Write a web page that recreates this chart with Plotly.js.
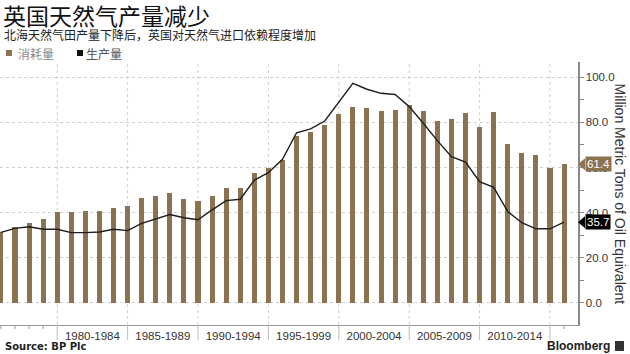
<!DOCTYPE html>
<html>
<head>
<meta charset="utf-8">
<script src="https://cdn.plot.ly/plotly-3.0.1.min.js"></script>
<style>html,body{margin:0;padding:0;background:#fff;}#chart{width:630px;height:354px;}</style>
</head>
<body>
<div id="chart"></div>
<script>
// ---- data (Million Metric Tons of Oil Equivalent, BP) ----
const years = [1975,1976,1977,1978,1979,1980,1981,1982,1983,1984,1985,1986,1987,1988,1989,
  1990,1991,1992,1993,1994,1995,1996,1997,1998,1999,2000,2001,2002,2003,2004,2005,2006,2007,
  2008,2009,2010,2011,2012,2013,2014,2015];
const consumption = [31.5,33.4,35.5,37.0,40.4,40.1,40.7,40.7,42.2,43.1,46.4,47.3,48.5,46.2,45.1,
  47.2,50.9,50.7,57.5,59.6,63.5,74.0,75.9,78.7,83.9,86.7,86.2,85.2,85.3,87.5,85.2,80.8,81.7,
  84.3,77.9,84.5,70.2,66.3,65.4,59.9,61.4];
const production = [31.2,33.0,33.7,32.6,32.6,31.1,31.1,31.4,32.6,32.0,35.2,37.3,39.1,37.7,36.8,
  41.2,45.3,45.9,54.4,57.7,63.6,75.4,77.1,80.6,88.8,97.3,94.7,92.9,92.4,87.0,79.6,71.9,64.8,
  62.4,53.7,51.2,40.4,35.5,32.8,32.8,35.7];
const periodLabels = ["1980-1984","1985-1989","1990-1994","1995-1999","2000-2004","2005-2009","2010-2014"];
const periodCenters = [1981.5,1986.5,1991.5,1996.5,2001.5,2006.5,2011.5];
const periodBounds = [1979,1984,1989,1994,1999,2004,2009,2014];
const minorTickYears = [1975,1976,1977,1978,2015];
const legendNames = ["消耗量","生产量"];

const BROWN = "#8b7352";
const CJK = "Noto Sans CJK SC, sans-serif";
const LAT = "Liberation Sans, Arial, sans-serif";

const W = 630, H = 354, ML = 0, MR = 52, MT = 62, MB = 29;
const PW = W - ML - MR, PH = H - MT - MB;
const px = X => (X - ML) / PW;
const py = Y => (H - MB - Y) / PH;

const traces = [
  {type: "bar", x: years, y: consumption, name: legendNames[0], width: 0.36,
   marker: {color: BROWN, line: {width: 0}}, hoverinfo: "skip"},
  {type: "scatter", mode: "lines", x: years, y: production, name: legendNames[1],
   line: {color: "#1e1e1e", width: 1.4}, hoverinfo: "skip"}
];

const shapes = [];
periodBounds.forEach(b => {
  shapes.push({type: "line", xref: "x", yref: "paper", x0: b, x1: b, y0: 0, y1: 1,
    line: {color: "#cfcfcf", width: 1, dash: "dot"}, layer: "below"});
  shapes.push({type: "line", xref: "x", yref: "paper", x0: b, x1: b, y0: 0, y1: -15 / PH,
    line: {color: "#bdbdbd", width: 1}});
});
minorTickYears.forEach(t => {
  shapes.push({type: "line", xref: "x", yref: "paper", x0: t, x1: t, y0: 0, y1: -4 / PH,
    line: {color: "#999", width: 1}});
});
// legend swatches
shapes.push({type: "rect", xref: "paper", yref: "paper", x0: px(6), x1: px(12), y0: py(56), y1: py(50),
  fillcolor: BROWN, line: {width: 0}});
shapes.push({type: "rect", xref: "paper", yref: "paper", x0: px(77), x1: px(83), y0: py(56), y1: py(50),
  fillcolor: "#111", line: {width: 0}});
// value tag pointers
function pointer(val, color) {
  const a = 1, b = 1 + 7 / PW, d = 6 / (PH / (106.79 + 9.89));
  return {type: "path", xref: "paper", yref: "y",
    path: `M ${a},${val} L ${b},${val + d} L ${b},${val - d} Z`,
    fillcolor: color, line: {width: 0}};
}
shapes.push(pointer(consumption[consumption.length - 1], BROWN));
shapes.push(pointer(production[production.length - 1], "#000"));
// bloomberg icon
shapes.push({type: "rect", xref: "paper", yref: "paper", x0: px(615), x1: px(624), y0: py(351), y1: py(341),
  fillcolor: "#333", line: {width: 0}});

const annotations = [
  {text: "北海天然气田产量下降后，英国对天然气进口依赖程度增加", xref: "paper", yref: "paper",
   x: px(2), y: py(35), xanchor: "left", yanchor: "middle", showarrow: false,
   font: {family: CJK, size: 12, color: "#222"}},
  {text: legendNames[0], xref: "paper", yref: "paper", x: px(16), y: py(53), xanchor: "left", yanchor: "middle",
   showarrow: false, font: {family: CJK, size: 12, color: "#8a8a8a"}},
  {text: legendNames[1], xref: "paper", yref: "paper", x: px(84), y: py(53), xanchor: "left", yanchor: "middle",
   showarrow: false, font: {family: CJK, size: 12, color: "#555"}},
  {text: "Million Metric Tons of Oil Equivalent", xref: "paper", yref: "paper", x: px(620), y: 0.5,
   xanchor: "center", yanchor: "middle", textangle: 90, showarrow: false,
   font: {family: LAT, size: 14, color: "#333"}},
  {text: "<b>Source: BP Plc</b>", xref: "paper", yref: "paper", x: px(3), y: py(346),
   xanchor: "left", yanchor: "middle", showarrow: false, font: {family: "DejaVu Sans, sans-serif", size: 10, color: "#222"}},
  {text: "<b>Bloomberg</b>", xref: "paper", yref: "paper", x: px(612), y: py(346),
   xanchor: "right", yanchor: "middle", showarrow: false, font: {family: LAT, size: 12, color: "#222"}},
  {text: consumption[consumption.length - 1].toFixed(1), xref: "paper", yref: "y", x: 1, xshift: 7,
   y: consumption[consumption.length - 1], xanchor: "left", yanchor: "middle", showarrow: false,
   bgcolor: BROWN, borderpad: 1, font: {family: LAT, size: 11.5, color: "#fff"}},
  {text: production[production.length - 1].toFixed(1), xref: "paper", yref: "y", x: 1, xshift: 7,
   y: production[production.length - 1], xanchor: "left", yanchor: "middle", showarrow: false,
   bgcolor: "#000", borderpad: 1, font: {family: LAT, size: 11.5, color: "#fff"}}
];

const layout = {
  width: W, height: H,
  margin: {l: ML, r: MR, t: MT, b: MB, pad: 0},
  paper_bgcolor: "#fff", plot_bgcolor: "#fff",
  showlegend: false,
  bargap: 0,
  title: {text: "英国天然气产量减少", xref: "container", yref: "container", x: 3 / W, y: 1 - 17 / H,
    xanchor: "left", yanchor: "middle", font: {family: CJK, size: 23, color: "#111"}},
  xaxis: {range: [1974.936, 2015.99], tickmode: "array", tickvals: periodCenters, ticktext: periodLabels,
    ticks: "", showgrid: false, zeroline: false, showline: true, linecolor: "#999", linewidth: 1,
    tickfont: {family: LAT, size: 11.5, color: "#333"}, fixedrange: true},
  yaxis: {side: "right", range: [-9.89, 106.79], tickmode: "linear", tick0: 0, dtick: 20, tickformat: ".1f",
    ticks: "outside", ticklen: 4, tickcolor: "#888", showline: true, linecolor: "#888", linewidth: 1.5,
    showgrid: true, gridcolor: "#cfcfcf", griddash: "dot", gridwidth: 1, zeroline: false,
    minor: {tickmode: "linear", tick0: 0, dtick: 10, ticks: "outside", ticklen: 4, tickcolor: "#888", showgrid: false},
    tickfont: {family: LAT, size: 11.5, color: "#333"}, fixedrange: true},
  shapes: shapes,
  annotations: annotations
};

Plotly.newPlot("chart", traces, layout, {staticPlot: true, displayModeBar: false});
</script>
</body>
</html>
